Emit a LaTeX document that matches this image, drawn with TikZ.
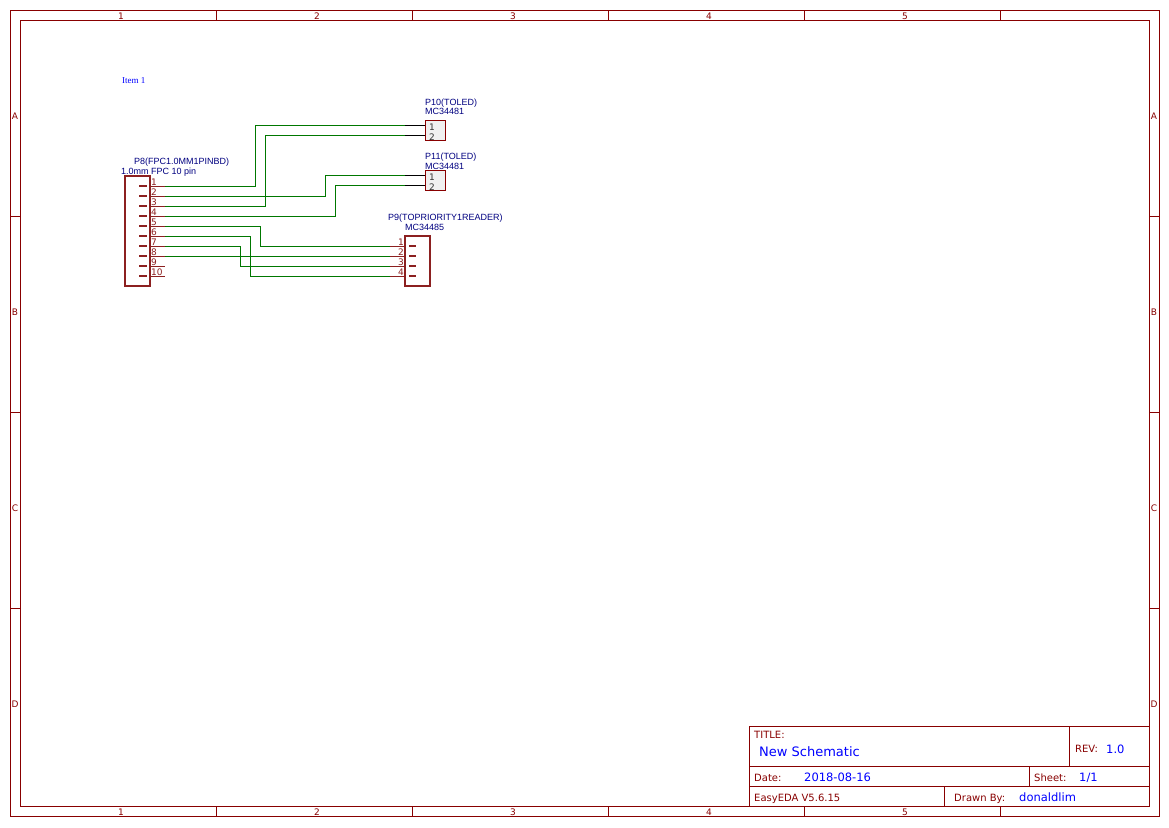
\documentclass[tikz,border=0pt]{standalone}
\usepackage{fontspec}
\setmainfont{Liberation Sans}
\newfontfamily\framefont{DejaVu Sans}
\newfontfamily\itemfont{Liberation Serif}
\definecolor{framered}{HTML}{880000}
\definecolor{partred}{HTML}{8C2020}
\definecolor{labelblue}{HTML}{000080}
\definecolor{valueblue}{HTML}{0000FF}
\definecolor{wiregreen}{HTML}{007800}
\tikzset{
  framebox/.style={draw=framered, line width=.8pt, minimum width=#1, inner sep=0pt, anchor=north west},
  frameline/.style={draw=framered, line width=.8pt},
  frametxt/.style={text=framered, font=\framefont\fontsize{9}{10}\selectfont, inner sep=0pt, anchor=base},
  blocktxt/.style={text=framered, font=\framefont\fontsize{10}{11}\selectfont, inner sep=0pt, anchor=base west},
  valuetxt/.style={text=valueblue, font=\framefont\fontsize{#1}{12}\selectfont, inner sep=0pt, anchor=base west},
  parttxt/.style={text=labelblue, font=\fontsize{9}{10}\selectfont, inner sep=0pt, anchor=base west},
  pintxt/.style={text=partred, font=\framefont\fontsize{9}{10}\selectfont, inner sep=0pt},
  partbody/.style={draw=partred, line width=2pt, inner sep=0pt},
  smallbody/.style={draw=framered, line width=1pt, fill=black!6, inner sep=0pt},
  pinline/.style={draw=partred, line width=1pt},
  pinstub/.style={draw=partred, line width=1.4pt},
  wire/.style={draw=wiregreen, line width=1pt},
  lead/.style={draw=black, line width=1pt},
}
\begin{document}
\begin{tikzpicture}[x=1pt,y=-1pt]
\useasboundingbox (0,0) rectangle (1169,827);
% sheet frame
\node[frameline, minimum width=1149pt, minimum height=806pt, inner sep=0pt] (outer) at (584.5,413.5){};
\node[frameline, minimum width=1129pt, minimum height=786pt, inner sep=0pt] (inner) at (584.5,413.5){};
\draw[frameline] (216,10.5) -- (216,20.5);
\draw[frameline] (412,10.5) -- (412,20.5);
\draw[frameline] (608,10.5) -- (608,20.5);
\draw[frameline] (804,10.5) -- (804,20.5);
\draw[frameline] (1000,10.5) -- (1000,20.5);
\draw[frameline] (216,806.5) -- (216,816.5);
\draw[frameline] (412,806.5) -- (412,816.5);
\draw[frameline] (608,806.5) -- (608,816.5);
\draw[frameline] (804,806.5) -- (804,816.5);
\draw[frameline] (1000,806.5) -- (1000,816.5);
\draw[frameline] (10,216.5) -- (20,216.5);
\draw[frameline] (10,412.5) -- (20,412.5);
\draw[frameline] (10,608.5) -- (20,608.5);
\draw[frameline] (1149,216.5) -- (1159,216.5);
\draw[frameline] (1149,412.5) -- (1159,412.5);
\draw[frameline] (1149,608.5) -- (1159,608.5);
\node[frametxt] (top1) at (121,19){1};
\node[frametxt] (top2) at (317,19){2};
\node[frametxt] (top3) at (513,19){3};
\node[frametxt] (top4) at (709,19){4};
\node[frametxt] (top5) at (905,19){5};
\node[frametxt] (bot1) at (121,815){1};
\node[frametxt] (bot2) at (317,815){2};
\node[frametxt] (bot3) at (513,815){3};
\node[frametxt] (bot4) at (709,815){4};
\node[frametxt] (bot5) at (905,815){5};
\node[frametxt] (leftA) at (15,119){A};
\node[frametxt] (leftB) at (15,315){B};
\node[frametxt] (leftC) at (15,511){C};
\node[frametxt] (leftD) at (15,707){D};
\node[frametxt] (rightA) at (1154,119){A};
\node[frametxt] (rightB) at (1154,315){B};
\node[frametxt] (rightC) at (1154,511){C};
\node[frametxt] (rightD) at (1154,707){D};
% title block
\node[frameline, minimum width=400pt, minimum height=80pt, inner sep=0pt] (block) at (949,766.5){};
\draw[frameline] (749,766.5) -- (1149,766.5);
\draw[frameline] (749,786.5) -- (1149,786.5);
\draw[frameline] (1069,726.5) -- (1069,766.5);
\draw[frameline] (1029,766.5) -- (1029,786.5);
\draw[frameline] (944,786.5) -- (944,806.5);
\node[blocktxt] (titlekey) at (754,738){TITLE:};
\node[valuetxt=13] (titleval) at (759,756.5){New Schematic};
\node[blocktxt] (revkey) at (1075,752){REV:};
\node[valuetxt=11.5] (revval) at (1106,753){1.0};
\node[blocktxt] (datekey) at (754,781){Date:};
\node[valuetxt=11.5] (dateval) at (804,781){2018-08-16};
\node[blocktxt] (sheetkey) at (1034,781){Sheet:};
\node[valuetxt=11.5] (sheetval) at (1079,781){1/1};
\node[blocktxt] (edakey) at (754,801){EasyEDA V5.6.15};
\node[blocktxt] (drawnkey) at (954,801){Drawn By:};
\node[valuetxt=11.5] (drawnval) at (1019,801){donaldlim};
% labels
\node[text=valueblue, font=\itemfont\fontsize{9}{10}\selectfont, inner sep=0pt, anchor=base west] (item) at (122,83){Item 1};
\node[parttxt] (p8name) at (134,164){P8(FPC1.0MM1PINBD)};
\node[parttxt] (p8val) at (121,174){1.0mm FPC 10 pin};
\node[parttxt] (p10name) at (425,105){P10(TOLED)};
\node[parttxt] (p10val) at (425,114){MC34481};
\node[parttxt] (p11name) at (425,159){P11(TOLED)};
\node[parttxt] (p11val) at (425,169){MC34481};
\node[parttxt] (p9name) at (388,220){P9(TOPRIORITY1READER)};
\node[parttxt] (p9val) at (405,230){MC34485};
% parts
\node[partbody, minimum width=25pt, minimum height=110pt] (p8) at (137.5,231){};
\node[partbody, minimum width=25pt, minimum height=50pt] (p9) at (417.5,261){};
\node[smallbody, minimum width=20pt, minimum height=20pt] (p10) at (435,130.5){};
\node[smallbody, minimum width=20pt, minimum height=20pt] (p11) at (435,180.5){};
% pin ends
\coordinate (p8a1) at (150,186);
\coordinate (p8a2) at (150,196);
\coordinate (p8a3) at (150,206);
\coordinate (p8a4) at (150,216);
\coordinate (p8a5) at (150,226);
\coordinate (p8a6) at (150,236);
\coordinate (p8a7) at (150,246);
\coordinate (p8a8) at (150,256);
\coordinate (p8a9) at (150,266);
\coordinate (p8a10) at (150,276);
\coordinate (p8b1) at (165,186);
\coordinate (p8b2) at (165,196);
\coordinate (p8b3) at (165,206);
\coordinate (p8b4) at (165,216);
\coordinate (p8b5) at (165,226);
\coordinate (p8b6) at (165,236);
\coordinate (p8b7) at (165,246);
\coordinate (p8b8) at (165,256);
\coordinate (p8b9) at (165,266);
\coordinate (p8b10) at (165,276);
\coordinate (p9a1) at (405,246);
\coordinate (p9a2) at (405,256);
\coordinate (p9a3) at (405,266);
\coordinate (p9a4) at (405,276);
\coordinate (p9b1) at (390,246);
\coordinate (p9b2) at (390,256);
\coordinate (p9b3) at (390,266);
\coordinate (p9b4) at (390,276);
\coordinate (p10a1) at (425,125.5);
\coordinate (p10a2) at (425,135.5);
\coordinate (p10b1) at (405,125.5);
\coordinate (p10b2) at (405,135.5);
\coordinate (p11a1) at (425,175.5);
\coordinate (p11a2) at (425,185.5);
\coordinate (p11b1) at (405,175.5);
\coordinate (p11b2) at (405,185.5);
% wires
\draw[wire] (p8b1) -- (255,186) -- (255,125.5) -- (p10b1);
\draw[wire] (p8b3) -- (265,206) -- (265,135.5) -- (p10b2);
\draw[wire] (p8b2) -- (325,196) -- (325,175.5) -- (p11b1);
\draw[wire] (p8b4) -- (335,216) -- (335,185.5) -- (p11b2);
\draw[wire] (p8b5) -- (260,226) -- (260,246) -- (p9b1);
\draw[wire] (p8b6) -- (250,236) -- (250,276) -- (p9b4);
\draw[wire] (p8b7) -- (240,246) -- (240,266) -- (p9b3);
\draw[wire] (p8b8) -- (p9b2);
% pins
\draw[pinline] (p8a1) -- (p8b1);
\draw[pinline] (p8a2) -- (p8b2);
\draw[pinline] (p8a3) -- (p8b3);
\draw[pinline] (p8a4) -- (p8b4);
\draw[pinline] (p8a5) -- (p8b5);
\draw[pinline] (p8a6) -- (p8b6);
\draw[pinline] (p8a7) -- (p8b7);
\draw[pinline] (p8a8) -- (p8b8);
\draw[pinline] (p8a9) -- (p8b9);
\draw[pinline] (p8a10) -- (p8b10);
\draw[pinline] (p9b1) -- (p9a1);
\draw[pinline] (p9b2) -- (p9a2);
\draw[pinline] (p9b3) -- (p9a3);
\draw[pinline] (p9b4) -- (p9a4);
\draw[lead] (p10b1) -- (p10a1);
\draw[lead] (p10b2) -- (p10a2);
\draw[lead] (p11b1) -- (p11a1);
\draw[lead] (p11b2) -- (p11a2);
\draw[pinstub] (139,186) -- (147,186);
\draw[pinstub] (139,196) -- (147,196);
\draw[pinstub] (139,206) -- (147,206);
\draw[pinstub] (139,216) -- (147,216);
\draw[pinstub] (139,226) -- (147,226);
\draw[pinstub] (139,236) -- (147,236);
\draw[pinstub] (139,246) -- (147,246);
\draw[pinstub] (139,256) -- (147,256);
\draw[pinstub] (139,266) -- (147,266);
\draw[pinstub] (139,276) -- (147,276);
\draw[pinstub] (409,246) -- (416,246);
\draw[pinstub] (409,256) -- (416,256);
\draw[pinstub] (409,266) -- (416,266);
\draw[pinstub] (409,276) -- (416,276);
% pin numbers
\node[pintxt, anchor=base west] (n81) at (151,185){1};
\node[pintxt, anchor=base west] (n82) at (151,195){2};
\node[pintxt, anchor=base west] (n83) at (151,205){3};
\node[pintxt, anchor=base west] (n84) at (151,215){4};
\node[pintxt, anchor=base west] (n85) at (151,225){5};
\node[pintxt, anchor=base west] (n86) at (151,235){6};
\node[pintxt, anchor=base west] (n87) at (151,245){7};
\node[pintxt, anchor=base west] (n88) at (151,255){8};
\node[pintxt, anchor=base west] (n89) at (151,265){9};
\node[pintxt, anchor=base west] (n810) at (151,275){10};
\node[pintxt, anchor=base east] (n91) at (404,245){1};
\node[pintxt, anchor=base east] (n92) at (404,255){2};
\node[pintxt, anchor=base east] (n93) at (404,265){3};
\node[pintxt, anchor=base east] (n94) at (404,275){4};
\node[pintxt, text=black!80, anchor=base west] (n101) at (429,130){1};
\node[pintxt, text=black!80, anchor=base west] (n102) at (429,140){2};
\node[pintxt, text=black!80, anchor=base west] (n111) at (429,180){1};
\node[pintxt, text=black!80, anchor=base west] (n112) at (429,190){2};
\end{tikzpicture}
\end{document}
